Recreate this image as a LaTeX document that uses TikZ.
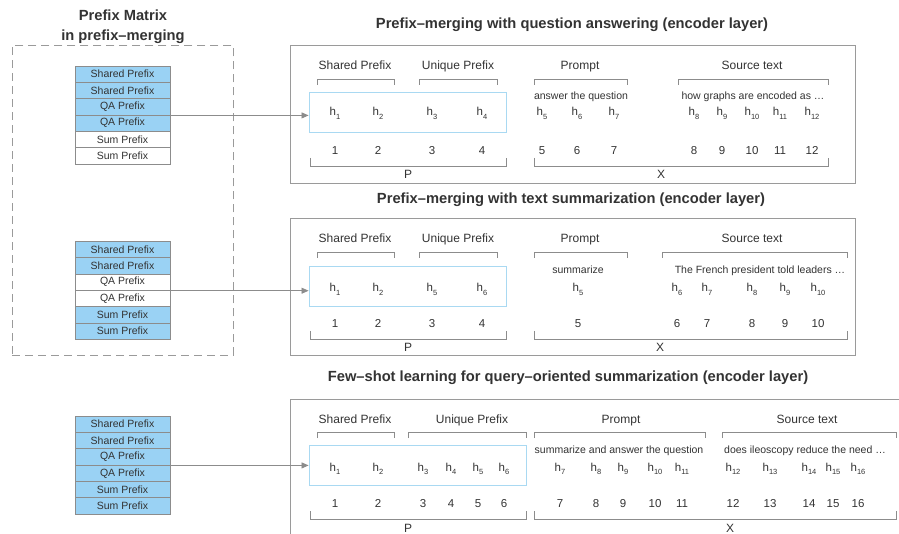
\documentclass[tikz,border=0pt]{standalone}
\usepackage{fontspec}
\setmainfont{Liberation Sans}
\usetikzlibrary{arrows.meta}
\definecolor{linegray}{HTML}{8C8C8C}
\definecolor{boxgray}{HTML}{9A9A9A}
\definecolor{prefblue}{HTML}{9AD2F4}
\definecolor{hboxc}{HTML}{A9D9F2}
\definecolor{txt}{HTML}{333333}
\newcommand\hsub[1]{h\raisebox{-0.55ex}{\fontsize{7.5}{8}\selectfont #1}}
\newcommand\topbracket[3]{\draw[brk] ({#1},{#3+6}) -- (#1,#3) -- (#2,#3) -- ({#2},{#3+6});}
\newcommand\botbracket[3]{\draw[brk] ({#1},{#3-8}) -- (#1,#3) -- (#2,#3) -- ({#2},{#3-8});}
\begin{document}
\begin{tikzpicture}[x=1pt,y=-1pt,
  every node/.style={text=txt},
  cell/.style={draw=linegray, line width=0.8pt, minimum width=95pt, minimum height=16.33pt, inner sep=0pt, font=\fontsize{10.5}{12}\selectfont},
  bluecell/.style={cell, fill=prefblue},
  whitecell/.style={cell, fill=white},
  panel/.style={draw=boxgray, line width=0.9pt, inner sep=0pt, anchor=north west},
  hbx/.style={draw=hboxc, line width=0.9pt, inner sep=0pt},
  brk/.style={draw=linegray, line width=0.8pt},
  lbl/.style={font=\fontsize{12}{14}\selectfont, inner sep=0pt, anchor=base},
  tok/.style={font=\fontsize{11.5}{13}\selectfont, inner sep=0pt, anchor=base},
  ph/.style={font=\fontsize{10.5}{12}\selectfont, inner sep=0pt, anchor=base},
  ttl/.style={font=\bfseries\fontsize{14.7}{17}\selectfont, inner sep=0pt, anchor=base},
  arr/.style={draw=linegray, line width=0.8pt, -{Triangle[length=7pt,width=6pt]}}
]
\fill[white] (0,0) rectangle (899,534);
\useasboundingbox (0,0) rectangle (899,534);

% ---------- left column ----------
\node[ttl] (lt1) at (123,20.5) {Prefix Matrix};
\node[ttl] (lt2) at (123,41) {in prefix–merging};
\node[draw=boxgray, dash pattern=on 8pt off 5pt, line width=0.9pt, minimum width=221pt, minimum height=310pt, anchor=north west, inner sep=0pt] (dbox) at (12,45) {};

\foreach \t/\f [count=\i] in {Shared Prefix/bluecell, Shared Prefix/bluecell, QA Prefix/bluecell, QA Prefix/bluecell, Sum Prefix/whitecell, Sum Prefix/whitecell}
  \node[\f] (sa\i) at (122.5,{74.2+16.33*(\i-1)}) {\t};
\foreach \t/\f [count=\i] in {Shared Prefix/bluecell, Shared Prefix/bluecell, QA Prefix/whitecell, QA Prefix/whitecell, Sum Prefix/bluecell, Sum Prefix/bluecell}
  \node[\f] (sb\i) at (122.5,{249.5+16.33*(\i-1)}) {\t};
\foreach \t/\f [count=\i] in {Shared Prefix/bluecell, Shared Prefix/bluecell, QA Prefix/bluecell, QA Prefix/bluecell, Sum Prefix/bluecell, Sum Prefix/bluecell}
  \node[\f] (sc\i) at (122.5,{424.2+16.33*(\i-1)}) {\t};

% ---------- panel 1 ----------
\node[ttl] (t1) at (572,28.5) {Prefix–merging with question answering (encoder layer)};
\node[panel, minimum width=565pt, minimum height=138pt] (p1) at (290,45) {};
\node[hbx, minimum width=197pt, minimum height=40pt] (b1) at (407.5,112) {};
\node[lbl] (a1l1) at (355,70) {Shared Prefix};
\node[lbl] (a1l2) at (458,70) {Unique Prefix};
\node[lbl] (a1l3) at (580,70) {Prompt};
\node[lbl] (a1l4) at (752,70) {Source text};
\topbracket{317}{394}{79}
\topbracket{419}{497}{79}
\topbracket{534}{627}{79}
\topbracket{678}{828}{79}
\node[ph] (a1q) at (581,99.5) {answer the question};
\node[ph] (a1s) at (753,99.5) {how graphs are encoded as …};
\foreach \x/\h [count=\i] in {335/1,378/2,432/3,482/4,542/5,577/6,614/7,694/8,722/9,752/10,780/11,812/12}{
  \node[tok] (a1h\i) at (\x,116) {\hsub{\h}};
  \node[tok] (a1n\i) at (\x,155) {\h};
}
\botbracket{310}{506}{166}
\botbracket{534}{828}{166}
\node[lbl] (a1P) at (408,179) {P};
\node[lbl] (a1X) at (661,179) {X};
\draw[arr] (sa3.south east) -- (sa3.south east -| b1.west);

% ---------- panel 2 ----------
\node[ttl] (t2) at (571,203.5) {Prefix–merging with text summarization (encoder layer)};
\node[panel, minimum width=565pt, minimum height=137pt] (p2) at (290,218) {};
\node[hbx, minimum width=197pt, minimum height=40pt] (b2) at (407.5,286) {};
\node[lbl] (a2l1) at (355,243) {Shared Prefix};
\node[lbl] (a2l2) at (458,243) {Unique Prefix};
\node[lbl] (a2l3) at (580,243) {Prompt};
\node[lbl] (a2l4) at (752,243) {Source text};
\topbracket{317}{394}{252}
\topbracket{419}{497}{252}
\topbracket{534}{627}{252}
\topbracket{662}{847}{252}
\node[ph] (a2q) at (578,273.5) {summarize};
\node[ph] (a2s) at (760,273.5) {The French president told leaders …};
\foreach \x/\h/\n [count=\i] in {335/1/1,378/2/2,432/5/3,482/6/4,578/5/5,677/6/6,707/7/7,752/8/8,785/9/9,818/10/10}{
  \node[tok] (a2h\i) at (\x,292) {\hsub{\h}};
  \node[tok] (a2n\i) at (\x,327.5) {\n};
}
\botbracket{310}{506}{339}
\botbracket{534}{847}{339}
\node[lbl] (a2P) at (408,352) {P};
\node[lbl] (a2X) at (660,352) {X};
\draw[arr] (sb3.south east) -- (sb3.south east -| b2.west);

% ---------- panel 3 ----------
\node[ttl] (t3) at (568,381.5) {Few–shot learning for query–oriented summarization (encoder layer)};
\node[panel, minimum width=700pt, minimum height=200pt] (p3) at (290,399) {};
\node[hbx, minimum width=217pt, minimum height=40pt] (b3) at (417.5,465) {};
\node[lbl] (a3l1) at (355,423) {Shared Prefix};
\node[lbl] (a3l2) at (472,423) {Unique Prefix};
\node[lbl] (a3l3) at (621,423) {Prompt};
\node[lbl] (a3l4) at (807,423) {Source text};
\topbracket{317}{394}{432}
\topbracket{408}{526}{432}
\topbracket{534}{705}{432}
\topbracket{722}{896}{432}
\node[ph] (a3q) at (619,453.5) {summarize and answer the question};
\node[ph] (a3s) at (805,453.5) {does ileoscopy reduce the need …};
\foreach \x/\h [count=\i] in {335/1,378/2,423/3,451/4,478/5,504/6,560/7,596/8,623/9,655/10,682/11,733/12,770/13,809/14,833/15,858/16}{
  \node[tok] (a3h\i) at (\x,471.5) {\hsub{\h}};
  \node[tok] (a3n\i) at (\x,507.5) {\h};
}
\botbracket{310}{526}{519}
\botbracket{534}{896}{519}
\node[lbl] (a3P) at (408,532) {P};
\node[lbl] (a3X) at (730,532) {X};
\draw[arr] (sc3.south east) -- (sc3.south east -| b3.west);
\end{tikzpicture}
\end{document}
